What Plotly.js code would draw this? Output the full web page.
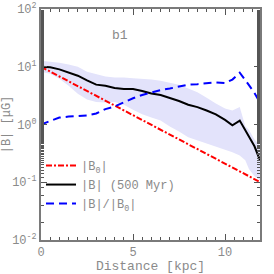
<!DOCTYPE html>
<html><head><meta charset="utf-8">
<script src="https://cdn.plot.ly/plotly-3.0.1.min.js"></script>
<style>html,body{margin:0;padding:0;background:#fff;}#c{width:274px;height:274px;}</style>
</head><body><div id="c"></div>
<script>
const dist = [0,0.5,1,1.5,2,2.5,3,3.5,4,4.5,5,5.5,6,6.5,7,7.5,8,8.5,9,9.5,10,10.4,10.8,11.1,11.3,11.6,11.9];
const bMean = [10,9.8,9.0,8.0,7.0,5.8,4.9,4.7,4.3,4.1,4.1,3.8,3.45,3.25,2.9,2.55,2.2,2.0,1.75,1.5,1.2,0.97,1.17,0.8,0.63,0.42,0.24];
const bUpper = [12.7,12.2,11.7,10.9,10.0,8.2,7.4,6.8,6.5,6.5,6.3,6.2,6.0,5.7,5.3,4.9,4.2,3.6,2.9,2.3,1.9,1.75,2.0,0.93,0.8,0.55,0.43];
const bLower = [8.2,7.6,6.2,4.7,3.4,2.7,2.45,2.4,2.45,2.2,1.8,1.5,1.32,1.17,0.92,0.76,0.6,0.53,0.47,0.42,0.37,0.33,0.29,0.24,0.17,0.127,0.108];
const ratio = [1.0,1.15,1.32,1.37,1.4,1.43,1.55,1.85,2.05,2.45,2.85,3.25,3.6,3.95,4.2,4.5,4.9,5.0,5.2,5.35,5.2,6.0,7.9,6.0,4.8,3.5,2.4];
const distB0 = [0,1,2,3,4,5,6,7,8,9,10,11,12];
const b0 = [10,6.8,4.6,3.1,2.1,1.45,0.98,0.66,0.45,0.31,0.21,0.14,0.097];
const yTickVals = [0.01,0.1,1,10,100];
const yTickText = ['10<sup>-2</sup>','10<sup>-1</sup>','10<sup>0</sup>','10<sup>1</sup>','10<sup>2</sup>'];
const xTickVals = [0,5,10];
const xTickText = ['0','5','10'];
const names = ['|B<sub>0</sub>|','|B| (500 Myr)','|B|/|B<sub>0</sub>|'];

const mono = 'Liberation Mono, DejaVu Sans Mono, monospace';
const txt = '#8a8a8a';
const traces = [
  {x: dist, y: bLower, mode:'lines', line:{width:0, color:'#e3e3fb'}, showlegend:false, hoverinfo:'skip'},
  {x: dist, y: bUpper, mode:'lines', line:{width:0, color:'#e3e3fb'}, fill:'tonexty', fillcolor:'#e3e3fb', showlegend:false, hoverinfo:'skip'},
  {x: distB0, y: b0, mode:'lines', name: names[0], line:{color:'#ff0000', width:2, dash:'6px,2px,2px,2px'}},
  {x: dist, y: bMean, mode:'lines', name: names[1], line:{color:'#000000', width:2}},
  {x: dist, y: ratio, mode:'lines', name: names[2], line:{color:'#0000ff', width:2, dash:'8px,5px'}}
];
const axisCommon = {
  showline:true, mirror:'allticks', linecolor:'#7a7a7a', linewidth:2,
  ticks:'inside', ticklen:6, tickcolor:'#555', tickwidth:1,
  showgrid:false, zeroline:false,
  tickfont:{family:mono, size:12, color:txt}
};
const layout = {
  width:274, height:274,
  margin:{l:41, r:14, t:9, b:34},
  paper_bgcolor:'#fff', plot_bgcolor:'#fff',
  xaxis: Object.assign({}, axisCommon, {
    range:[0,11.9], tickvals:xTickVals, ticktext:xTickText,
    minor:{ticks:'inside', ticklen:3, dtick:0.5, tickcolor:'#555'},
    title:{text:'Distance [kpc]', font:{family:mono, size:13, color:txt}, standoff:4}
  }),
  yaxis: Object.assign({}, axisCommon, {
    type:'log', range:[-2,2], tickvals:yTickVals, ticktext:yTickText,
    minor:{ticks:'inside', ticklen:3, tickcolor:'#555'},
    title:{text:'|B| [μG]', font:{family:mono, size:12, color:txt}, standoff:2}
  }),
  legend:{x:0.0, y:0.095, xanchor:'left', yanchor:'bottom', bgcolor:'rgba(0,0,0,0)',
    traceorder:'normal', font:{family:mono, size:12, color:txt}, itemwidth:30, tracegroupgap:0},
  annotations:[{text:'b1', xref:'paper', yref:'paper', x:0.315, y:0.925, showarrow:false,
    font:{family:mono, size:13, color:txt}}],
  showlegend:true
};
Plotly.newPlot('c', traces, layout, {staticPlot:true, displayModeBar:false});
</script></body></html>
